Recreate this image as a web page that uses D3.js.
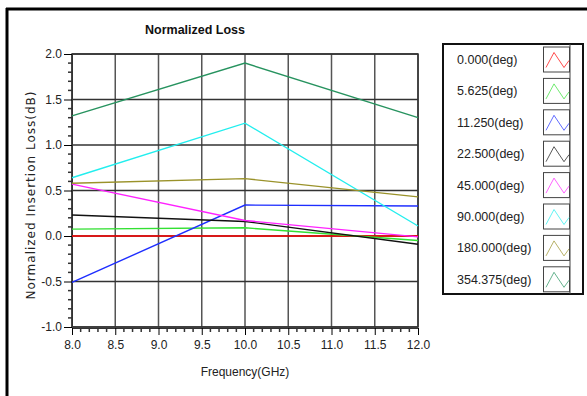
<!DOCTYPE html>
<html><head><meta charset="utf-8">
<script src="https://cdn.jsdelivr.net/npm/d3@7"></script>
<style>
html,body{margin:0;padding:0;background:#fff;}
svg{display:block;}
</style></head>
<body>
<svg id="c" width="587" height="396"></svg>
<script>
const freqs = [8.0, 10.0, 12.0];
const seriesNames = ["0.000(deg)","5.625(deg)","11.250(deg)","22.500(deg)","45.000(deg)","90.000(deg)","180.000(deg)","354.375(deg)"];
const seriesColors = ["#ff0000","#33e033","#1e2eff","#111111","#ff22ff","#22eeee","#9a922a","#27935f"];
const s0 = [0.00, 0.00, 0.00];
const s5 = [0.075, 0.09, -0.05];
const s11 = [-0.51, 0.34, 0.33];
const s22 = [0.23, 0.16, -0.09];
const s45 = [0.57, 0.17, -0.01];
const s90 = [0.64, 1.24, 0.11];
const s180 = [0.58, 0.63, 0.43];
const s354 = [1.32, 1.90, 1.30];
const seriesValues = [s0, s5, s11, s22, s45, s90, s180, s354];
const xTicks = [8.0,8.5,9.0,9.5,10.0,10.5,11.0,11.5,12.0];
const yTicks = [-1.0,-0.5,0.0,0.5,1.0,1.5,2.0];

const svg = d3.select("#c");
const L=72, R=418, T=54, B=327;
const x = d3.scaleLinear().domain([8,12]).range([L,R]);
const y = d3.scaleLinear().domain([-1,2]).range([B,T]);
const font = "'Liberation Sans', Arial, sans-serif";
const fmt = d => d.toFixed(1);

// outer frame (left & top)
svg.append("line").attr("x1",7).attr("x2",7).attr("y1",8).attr("y2",396).attr("stroke","#000").attr("stroke-width",3);
svg.append("line").attr("x1",6).attr("x2",587).attr("y1",9).attr("y2",9).attr("stroke","#000").attr("stroke-width",3);

// title
svg.append("text").attr("x",195).attr("y",34).attr("text-anchor","middle")
  .attr("font-family",font).attr("font-weight","bold").attr("font-size",12.5).attr("fill","#111").text("Normalized Loss");

// grid
const g = svg.append("g");
xTicks.forEach(v=>{
  g.append("line").attr("x1",x(v)).attr("x2",x(v)).attr("y1",T).attr("y2",B)
   .attr("stroke","#555").attr("stroke-width",1.5);
});
yTicks.forEach(v=>{
  g.append("line").attr("x1",L).attr("x2",R).attr("y1",y(v)).attr("y2",y(v))
   .attr("stroke","#333").attr("stroke-width",1.5);
});
// plot frame
svg.append("rect").attr("x",L).attr("y",T).attr("width",R-L).attr("height",B-T)
  .attr("fill","none").attr("stroke","#333").attr("stroke-width",1.5);

// y axis
const yAx = d3.axisLeft(y).tickValues(yTicks).tickFormat(fmt).tickSize(8).tickSizeOuter(0);
const ya = svg.append("g").attr("transform",`translate(${L},0)`).call(yAx);
ya.select(".domain").attr("stroke","#333");
ya.selectAll("text").attr("font-family",font).attr("font-size",12).attr("fill","#222").attr("dx","1");
const yMinor = d3.range(-1,2.0001,0.1).filter(v=>Math.abs(v*2-Math.round(v*2))>1e-6);
svg.append("g").selectAll("line").data(yMinor).join("line")
  .attr("x1",L-4).attr("x2",L).attr("y1",d=>y(d)).attr("y2",d=>y(d)).attr("stroke","#333").attr("stroke-width",1.5);

// x axis
const xAx = d3.axisBottom(x).tickValues(xTicks).tickFormat(fmt).tickSize(7).tickSizeOuter(0);
const xa = svg.append("g").attr("transform",`translate(0,${B+1})`).call(xAx);
xa.select(".domain").attr("stroke","#333");
xa.selectAll("text").attr("font-family",font).attr("font-size",12).attr("fill","#222").attr("dy","0.9em");
const xMinor = d3.range(8,12.0001,0.1).filter(v=>Math.abs(v*2-Math.round(v*2))>1e-6);
svg.append("g").selectAll("line").data(xMinor).join("line")
  .attr("x1",d=>x(d)).attr("x2",d=>x(d)).attr("y1",B+1).attr("y2",B+5).attr("stroke","#333").attr("stroke-width",1.5);

// axis labels
svg.append("text").attr("x",245).attr("y",376).attr("text-anchor","middle")
  .attr("font-family",font).attr("font-size",12).attr("fill","#222").text("Frequency(GHz)");
svg.append("text").attr("transform","translate(35,195) rotate(-90)").attr("text-anchor","middle")
  .attr("font-family","'DejaVu Sans', Verdana, sans-serif").attr("font-size",12).attr("letter-spacing",1.0)
  .attr("fill","#222").text("Normalized Insertion Loss(dB)");

// series
const line = d3.line().x((d,i)=>x(freqs[i])).y(d=>y(d));
const plot = svg.append("g");
seriesValues.forEach((vals,k)=>{
  plot.append("path").attr("d",line(vals)).attr("fill","none")
    .attr("stroke",seriesColors[k]).attr("stroke-width",1.4);
});

// legend
const LX=443, LY=44, LW=140, LH=250;
svg.append("rect").attr("x",LX).attr("y",LY).attr("width",LW).attr("height",LH)
  .attr("fill","#fff").attr("stroke","#111").attr("stroke-width",2);
svg.append("line").attr("x1",570).attr("x2",570).attr("y1",LY).attr("y2",LY+LH).attr("stroke","#444").attr("stroke-width",1);
const rowH = 31.4;
seriesNames.forEach((n,k)=>{
  const cy = LY + 15.5 + k*rowH;
  svg.append("text").attr("x",457).attr("y",cy+4.5).attr("font-family",font).attr("font-size",12.5)
    .attr("fill","#222").text(n);
  svg.append("rect").attr("x",543.5).attr("y",cy-12.5).attr("width",26).attr("height",25)
    .attr("fill","#fff").attr("stroke","#444").attr("stroke-width",1);
  const bx=544, by=cy-12;
  const pts = [[bx+2,by+20],[bx+10,by+5],[bx+20,by+20],[bx+25,by+13]];
  svg.append("path").attr("d",d3.line()(pts)).attr("fill","none")
    .attr("stroke",seriesColors[k]).attr("stroke-opacity",0.7).attr("stroke-width",1);
});
</script>
</body></html>
